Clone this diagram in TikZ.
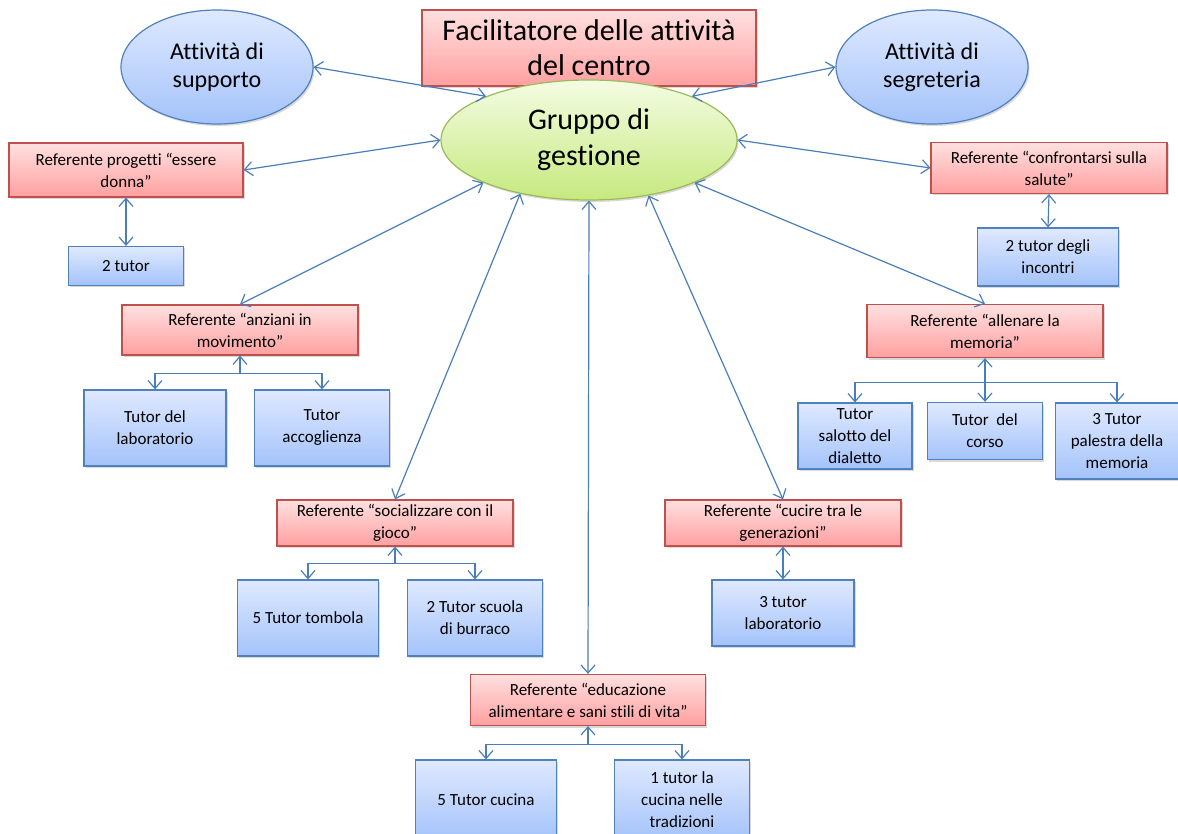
\documentclass[tikz,border=0pt]{standalone}
\usepackage{fontspec}
\setmainfont{Carlito}[Ligatures={NoCommon}]
\usetikzlibrary{arrows.meta,shadows,shapes.geometric}
\definecolor{linkblue}{HTML}{4A7EBB}
\definecolor{redline}{HTML}{C0504D}
\definecolor{redtop}{HTML}{FFE0E0}
\definecolor{redbot}{HTML}{FFA0A0}
\definecolor{blueline}{HTML}{4F81BD}
\definecolor{bluetop}{HTML}{DFE9FF}
\definecolor{bluebot}{HTML}{A4C3FA}
\definecolor{greenline}{HTML}{9BBB59}
\definecolor{greentop}{HTML}{F4FCE3}
\definecolor{greenbot}{HTML}{C6E97E}
\tikzset{
  basenode/.style = {align=center, inner sep=2pt, text centered, font=\fontsize{17}{22}\selectfont,
    drop shadow={opacity=0.3, shadow xshift=1.5pt, shadow yshift=-2pt}},
  rnode/.style = {basenode, rectangle, draw=redline, line width=1.2pt, top color=redtop, bottom color=redbot,
    minimum width=236pt, minimum height=50pt},
  bnode/.style = {basenode, rectangle, draw=blueline, line width=1.2pt, top color=bluetop, bottom color=bluebot},
  enode/.style = {basenode, ellipse, draw=blueline, line width=1.2pt, top color=bluetop, bottom color=bluebot,
    font=\fontsize{24}{28}\selectfont, minimum width=192pt, minimum height=114pt},
  gnode/.style = {basenode, ellipse, draw=greenline, line width=1.2pt, top color=greentop, bottom color=greenbot,
    font=\fontsize{30}{36}\selectfont, minimum width=296pt, minimum height=120pt},
  link/.style = {draw=linkblue, line width=1.2pt, >={Straight Barb[length=8pt,width=14pt]}},
}
\begin{document}
\begin{tikzpicture}[x=1pt, y=-1pt]
\useasboundingbox (0,0) rectangle (1178,834);
% top row
\node [rnode, font=\fontsize{30}{35}\selectfont, minimum width=334pt, minimum height=76pt] (facil) at (589,48) {Facilitatore delle attività\\del centro};
\node [enode] (supporto) at (217,67) {Attività di\\supporto};
\node [enode] (segreteria) at (932,67) {Attività di\\segreteria};
\node [gnode] (gruppo) at (589,140) {Gruppo di\\gestione};
% referenti
\node [rnode, minimum width=234pt, minimum height=54pt] (essere) at (126,170) {Referente progetti “essere\\donna”};
\node [rnode, minimum height=51pt] (salute) at (1049,168) {Referente “confrontarsi sulla\\salute”};
\node [rnode] (anziani) at (240,330) {Referente “anziani in\\movimento”};
\node [rnode, minimum height=53pt] (memoria) at (985,331) {Referente “allenare la\\memoria”};
\node [rnode, minimum height=46pt] (gioco) at (395,523) {Referente “socializzare con il\\gioco”};
\node [rnode, minimum height=46pt] (cucire) at (783,523) {Referente “cucire tra le\\generazioni”};
\node [rnode, minimum width=235pt, minimum height=51pt] (educ) at (588,700) {Referente “educazione\\alimentare e sani stili di vita”};
% tutor
\node [bnode, minimum width=115pt, minimum height=39pt] (tut2) at (126,266) {2 tutor};
\node [bnode, minimum width=141pt, minimum height=58pt] (incontri) at (1048,257) {2 tutor degli\\incontri};
\node [bnode, minimum width=142pt, minimum height=76pt] (tlab) at (155,428) {Tutor del\\laboratorio};
\node [bnode, minimum width=135pt, minimum height=76pt] (tacc) at (322,428) {Tutor\\accoglienza};
\node [bnode, minimum width=114pt, minimum height=66pt] (tsal) at (855,436) {Tutor\\salotto del\\dialetto};
\node [bnode, minimum width=115pt, minimum height=57pt] (tcor) at (985,431) {Tutor~ del\\corso};
\node [bnode, minimum width=123pt, minimum height=76pt] (tpal) at (1117,441) {3 Tutor\\palestra della\\memoria};
\node [bnode, minimum width=141pt, minimum height=76pt] (ttom) at (308,618) {5 Tutor tombola};
\node [bnode, minimum width=135pt, minimum height=76pt] (tbur) at (475,618) {2 Tutor scuola\\di burraco};
\node [bnode, minimum width=142pt, minimum height=66pt] (tlab3) at (783,613) {3 tutor\\laboratorio};
\node [bnode, minimum width=141pt, minimum height=80pt] (tcuc) at (486,800) {5 Tutor cucina};
\node [bnode, minimum width=135pt, minimum height=80pt] (ttrad) at (682,800) {1 tutor la\\cucina nelle\\tradizioni};
% links to the gruppo
\draw [link, <->] (supporto.east) -- (gruppo.157);
\draw [link, <->] (segreteria.west) -- (gruppo.23);
\draw [link, <->] (essere.east) -- (gruppo.west);
\draw [link, <->] (salute.west) -- (gruppo.east);
\draw [link, <->] (anziani.north) -- (gruppo.202);
\draw [link, <->] (gioco.north) -- (gruppo.218);
\draw [link, <->] (educ.north) -- (gruppo.south);
\draw [link, <->] (cucire.north) -- (gruppo.317);
\draw [link, <->] (memoria.north) -- (gruppo.338);
% links to the tutor
\draw [link, <->] (essere.south) -- (tut2.north);
\draw [link, <->] (salute.south) -- (incontri.north);
\draw [link, <->] (cucire.south) -- (tlab3.north);
\draw [link, <-] (anziani.south) -- ++(0,18) coordinate (anzbar);
\draw [link, ->] (anzbar) -| (tlab.north);
\draw [link, ->] (anzbar) -| (tacc.north);
\draw [link, <-] (memoria.south) -- ++(0,24) coordinate (membar);
\draw [link, ->] (membar) -| (tsal.north);
\draw [link, ->] (membar) -- (tcor.north);
\draw [link, ->] (membar) -| (tpal.north);
\draw [link, <-] (gioco.south) -- ++(0,17) coordinate (giobar);
\draw [link, ->] (giobar) -| (ttom.north);
\draw [link, ->] (giobar) -| (tbur.north);
\draw [link, <-] (educ.south) -- ++(0,18) coordinate (edubar);
\draw [link, ->] (edubar) -| (tcuc.north);
\draw [link, ->] (edubar) -| (ttrad.north);
\end{tikzpicture}
\end{document}
